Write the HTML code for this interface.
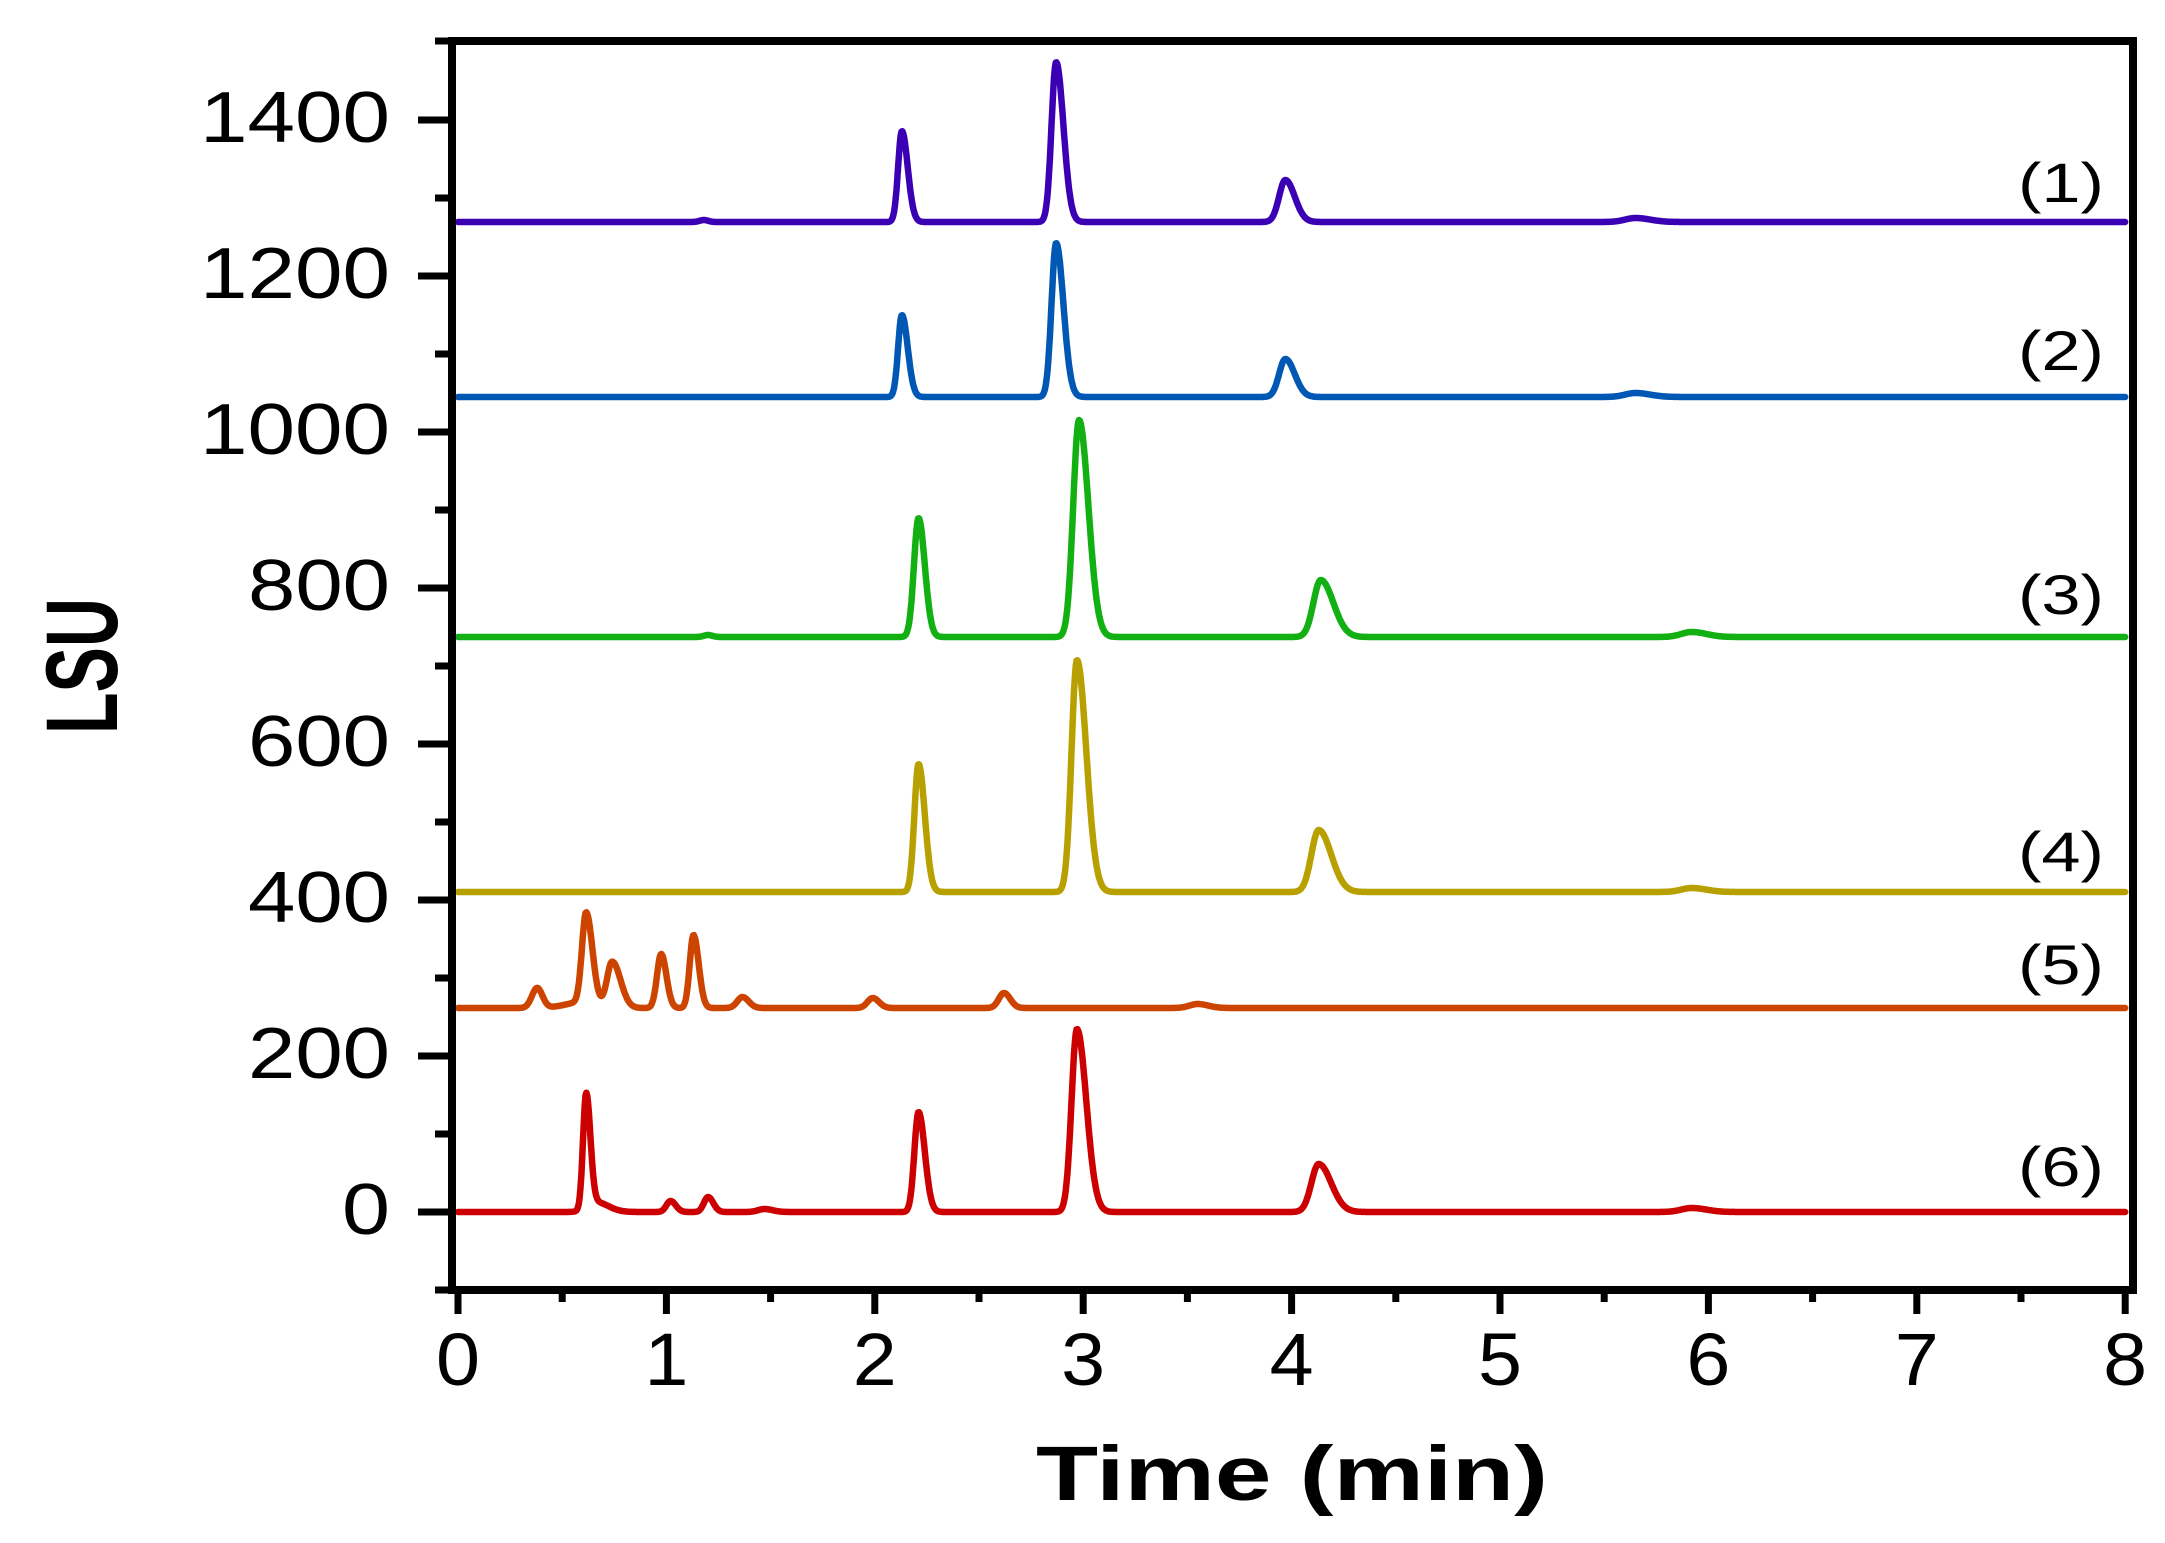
<!DOCTYPE html>
<html><head><meta charset="utf-8"><style>
html,body{margin:0;padding:0;background:#fff;}
svg{display:block;}
text{font-family:"Liberation Sans",Arial,sans-serif;fill:#000;}
</style></head><body>
<svg id="s" width="2165" height="1543" viewBox="0 0 2165 1543" xmlns="http://www.w3.org/2000/svg">
<g id="curves" fill="none" stroke-width="6.5" stroke-linejoin="round" stroke-linecap="round"></g>
<g stroke="#000" fill="none">
<rect x="452" y="41" width="1681" height="1249" stroke-width="8"/>
<line x1="435" y1="41" x2="452" y2="41" stroke-width="7"/>
<line x1="435" y1="1290" x2="452" y2="1290" stroke-width="7"/>
</g>
<g id="ticks" stroke="#000" stroke-width="7"></g>
<g font-size="72">
<text x="390" y="142" text-anchor="end" textLength="190" lengthAdjust="spacingAndGlyphs">1400</text>
<text x="390" y="298" text-anchor="end" textLength="190" lengthAdjust="spacingAndGlyphs">1200</text>
<text x="390" y="454" text-anchor="end" textLength="190" lengthAdjust="spacingAndGlyphs">1000</text>
<text x="390" y="610" text-anchor="end" textLength="142" lengthAdjust="spacingAndGlyphs">800</text>
<text x="390" y="766" text-anchor="end" textLength="142" lengthAdjust="spacingAndGlyphs">600</text>
<text x="390" y="922" text-anchor="end" textLength="142" lengthAdjust="spacingAndGlyphs">400</text>
<text x="390" y="1078" text-anchor="end" textLength="142" lengthAdjust="spacingAndGlyphs">200</text>
<text x="390" y="1234" text-anchor="end" textLength="48" lengthAdjust="spacingAndGlyphs">0</text>
</g>
<g id="xl" font-size="74"></g>
<g font-size="56">
<text x="2104" y="202" text-anchor="end" textLength="86" lengthAdjust="spacingAndGlyphs">(1)</text>
<text x="2104" y="370" text-anchor="end" textLength="86" lengthAdjust="spacingAndGlyphs">(2)</text>
<text x="2104" y="614" text-anchor="end" textLength="86" lengthAdjust="spacingAndGlyphs">(3)</text>
<text x="2104" y="871" text-anchor="end" textLength="86" lengthAdjust="spacingAndGlyphs">(4)</text>
<text x="2104" y="984" text-anchor="end" textLength="86" lengthAdjust="spacingAndGlyphs">(5)</text>
<text x="2104" y="1186" text-anchor="end" textLength="86" lengthAdjust="spacingAndGlyphs">(6)</text>
</g>
<text x="1036" y="1500" font-size="77" font-weight="bold" textLength="512" lengthAdjust="spacingAndGlyphs">Time (min)</text>
<g transform="translate(117,666) rotate(-90) scale(1,1.5)"><text x="0" y="0" text-anchor="middle" font-size="68" font-weight="bold" textLength="136" lengthAdjust="spacingAndGlyphs">LSU</text></g>
</svg>
<script>
(function(){
var NS="http://www.w3.org/2000/svg";
var X0=458,XS=208.4;
function X(t){return X0+XS*t;}
function Yv(v){return 1212-0.78*v;}
var tk=document.getElementById('ticks');
function ln(x1,y1,x2,y2){var l=document.createElementNS(NS,'line');l.setAttribute('x1',x1);l.setAttribute('y1',y1);l.setAttribute('x2',x2);l.setAttribute('y2',y2);tk.appendChild(l);}
for(var v=-100;v<=1500;v+=100){var y=Yv(v);if(v%200==0)ln(418,y,452,y);else if(v>-100&&v<1500)ln(435,y,452,y);}
for(var i=0;i<=16;i++){var x=X(i/2);if(i%2==0)ln(x,1290,x,1314);else ln(x,1290,x,1302);}
var xl=document.getElementById('xl');
for(var i=0;i<=8;i++){var t=document.createElementNS(NS,'text');t.setAttribute('x',X(i));t.setAttribute('y',1385);t.setAttribute('text-anchor','middle');t.setAttribute('textLength',44);t.setAttribute('lengthAdjust','spacingAndGlyphs');t.textContent=String(i);xl.appendChild(t);}
var series=[
 {c:'#3c00b4',b:222,p:[[2.13,131,0.018,0.028],[2.87,62,0.022,0.035],[3.97,180,0.03,0.045],[5.65,218,0.05,0.07],[1.18,220,0.02,0.02]]},
 {c:'#0058b4',b:397,p:[[2.13,315,0.018,0.028],[2.87,243,0.022,0.035],[3.97,359,0.03,0.045],[5.65,393,0.05,0.07]]},
 {c:'#12b012',b:637,p:[[2.21,518,0.022,0.03],[2.98,420,0.028,0.045],[4.14,580,0.035,0.06],[5.92,632,0.05,0.07],[1.2,635,0.02,0.02]]},
 {c:'#b8a000',b:892,p:[[2.21,764,0.02,0.03],[2.97,660,0.026,0.045],[4.13,830,0.035,0.06],[5.92,888,0.05,0.07]]},
 {c:'#cc4400',b:1008,p:[[0.38,988,0.025,0.025],[0.6,1002,0.08,0.06],[0.615,918,0.02,0.03],[0.74,962,0.025,0.04],[0.975,954,0.02,0.025],[1.13,935,0.018,0.025],[1.365,997,0.025,0.03],[1.99,998,0.025,0.03],[2.62,993,0.025,0.03],[3.55,1004,0.04,0.05]]},
 {c:'#cc0000',b:1212,p:[[0.615,1098,0.015,0.02],[0.66,1202,0.04,0.06],[1.02,1201,0.02,0.025],[1.2,1197,0.02,0.025],[1.47,1209,0.03,0.04],[2.21,1112,0.02,0.03],[2.97,1029,0.026,0.045],[4.13,1164,0.035,0.06],[5.92,1208,0.05,0.07]]}
];
var g=document.getElementById('curves');
series.forEach(function(s){
 var d='';
 for(var t=0;t<=8.0001;t+=0.004){
  var y=s.b;
  s.p.forEach(function(p){var sg=t<p[0]?p[2]:p[3];var z=(t-p[0])/sg;if(Math.abs(z)<6)y-= (s.b-p[1])*Math.exp(-0.5*z*z);});
  d+=(d?'L':'M')+X(t).toFixed(1)+' '+y.toFixed(1);
 }
 var pa=document.createElementNS(NS,'path');pa.setAttribute('d',d);pa.setAttribute('stroke',s.c);g.appendChild(pa);
});
})();
</script>
</body></html>
